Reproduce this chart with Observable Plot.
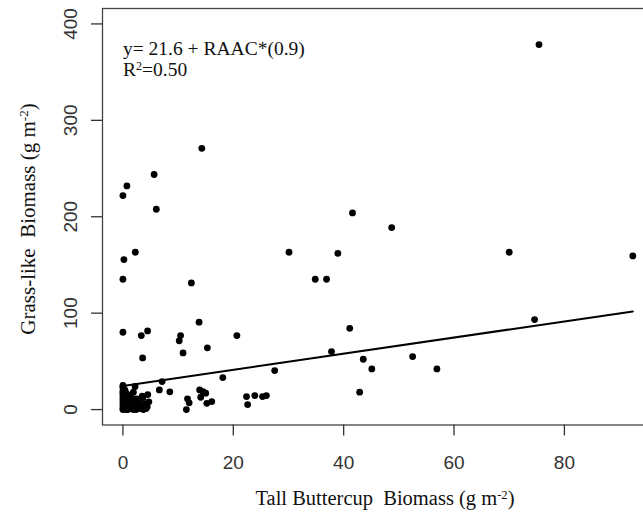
<!DOCTYPE html>
<html><head><meta charset="utf-8">
<script src="https://cdn.jsdelivr.net/npm/d3@7"></script>
<script src="https://cdn.jsdelivr.net/npm/@observablehq/plot@0.6"></script>
<style>
html,body{margin:0;padding:0;background:#fff;overflow:hidden}
#wrap{position:relative;width:643px;height:518px;overflow:hidden;background:#fff}
#wrap svg{max-width:none !important;position:absolute;left:0;top:0}
.lbl{position:absolute;font-family:"Liberation Serif","Times New Roman",serif;color:#111;white-space:nowrap;line-height:1}
.lbl sup{font-size:0.62em;vertical-align:0.5em;line-height:0}
</style></head><body><div id="wrap"></div>
<script>
// Tall buttercup biomass (x) and grass-like biomass (y), g m-2
const buttercup = [
  0,0.72,5.65,6.05,14.3,2.25,0.18,0,12.4,30.1,34.85,36.9,38.95,41.6,48.7,70.0,92.4,75.4,
  0,3.33,4.47,10.45,10.2,13.8,20.65,15.3,10.9,3.57,41.1,74.6,37.8,43.55,45.1,52.5,56.9,42.9,18.1,27.5,
  7.1,6.6,8.5,4.5,13.9,14.5,15.0,14.1,11.7,12.0,11.5,15.2,16.1,22.4,23.9,25.3,26.0,22.6,
  0,0,0,0,0,0,0,0,0.2,0.3,0.4,0.5,0.6,0.8,1.0,1.1,1.3,1.5,1.6,1.8,2.0,2.2,2.4,2.5,2.7,3.0,3.2,3.4,3.6,3.9,4.1,4.4,4.7,0.1,0.7,1.2,1.9,2.8,3.5,0.9,0,0,0.3,1.4,2.1,
  0.5,1.0,1.7,2.3,2.9,3.7,4.2,0.2,1.5,2.6,3.3,0.8,1.9,4.0,0.4
];
const grass = [
  222,232,243.8,207.8,271,163.2,155.6,135.2,131.4,163.2,135.2,135.2,162.1,204,188.8,163.2,159.4,378.6,
  80.2,76.8,81.6,76.8,71.3,90.6,76.8,64,58.8,53.6,84.3,93.4,60.2,52.2,42.2,55,42.2,18,33.2,40.5,
  29,20.4,18.4,15.6,20.4,18.7,17,12.8,11.1,7,0,6.5,8.3,13.5,14.5,13.5,14.5,5.2,
  0,2,5,8,11,14,17,25,1,4,20,7,12,3,6,15,1,13,9,2,5,24,0,11,3,7,1,4,12,2,6,3,8,22,16,10,18,6,14,0,19,23,9,4,1,
  0,1,3,8,10,0,1,11,6,4,1,5,0,1,17
];
// fitted line end points
const fitX = [0, 92.4];
const fitY = [24.5, 101.8];
const xTicks = [0, 20, 40, 60, 80];
const yTicks = [0, 100, 200, 300, 400];
const xTitle = 'Tall Buttercup&nbsp; Biomass (g m<sup>-2</sup>)';
const yTitle = 'Grass-like&nbsp; Biomass (g m<sup>-2</sup>)';
const eqLines = ['y= 21.6 + RAAC*(0.9)', 'R<sup>2</sup>=0.50'];

const data = buttercup.map((x, i) => ({x, y: grass[i]}));
const fit = fitX.map((x, i) => ({x, y: fitY[i]}));

const chart = Plot.plot({
  width: 674, height: 518,
  marginLeft: 102, marginTop: 8, marginBottom: 93.5, marginRight: 20.7,
  x: {domain: [-3.7, 96.2]},
  y: {domain: [-16, 416]},
  style: {fontFamily: "'Liberation Sans', Arial, sans-serif", fontSize: "19px", color: "#333", background: "white", maxWidth: "none"},
  marks: [
    Plot.frame({stroke: "#444", strokeWidth: 1.3}),
    Plot.axisX({ticks: xTicks, tickSize: 11, tickPadding: 19, label: null, strokeWidth: 1.3}),
    Plot.axisY({ticks: yTicks, tickSize: 11, tickPadding: 15, tickRotate: -90, label: null, strokeWidth: 1.3}),
    Plot.line(fit, {x: "x", y: "y", stroke: "black", strokeWidth: 2}),
    Plot.dot(data, {x: "x", y: "y", r: 3.4, fill: "black"})
  ]
});
chart.style.maxWidth = "none";
const wrap = document.getElementById("wrap");
wrap.appendChild(chart);

function addLabel(html, css) {
  const d = document.createElement("div");
  d.className = "lbl";
  d.innerHTML = html;
  Object.assign(d.style, css);
  wrap.appendChild(d);
}
addLabel(xTitle, {left: "385px", top: "488px", fontSize: "20.5px", transform: "translateX(-50%)"});
addLabel(yTitle, {left: "28px", top: "219px", fontSize: "21px", transform: "translate(-50%,-50%) rotate(-90deg)"});
addLabel(eqLines.join("<br>"), {left: "123px", top: "38px", fontSize: "19.5px", lineHeight: "21px"});
</script></body></html>
